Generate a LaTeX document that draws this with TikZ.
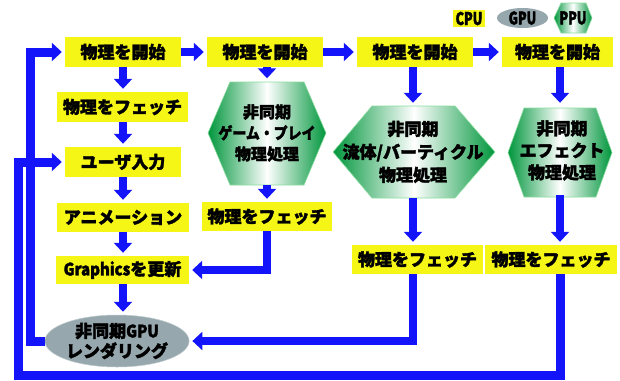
\documentclass[tikz,border=0pt]{standalone}
\usepackage{fontspec}
\usepackage{graphicx}
\newfontfamily\jp{Noto Sans CJK JP}[BoldFeatures={FakeBold=2}]
\newfontfamily\latn{Noto Sans CJK JP}[FakeStretch=0.88, BoldFeatures={FakeBold=2}]
\newfontfamily\latc{Noto Sans CJK JP}[FakeStretch=0.72, BoldFeatures={FakeBold=2}]
\usetikzlibrary{arrows.meta,shapes.geometric}
\definecolor{yel}{RGB}{246,246,22}
\definecolor{blu}{RGB}{20,20,250}
\definecolor{grn}{RGB}{0,150,60}
\definecolor{gry}{RGB}{150,168,174}
\definecolor{hexline}{RGB}{140,220,160}
\tikzset{
  ybox/.style={fill=yel, inner sep=0pt, minimum height=30pt, font=\jp\bfseries\fontsize{17}{20}\selectfont},
  flowarr/.style={draw=blu, line width=8pt, -{Triangle[length=10pt,width=18pt]}, shorten >=3pt, line join=miter},
  looparr/.style={flowarr, line width=9pt},
  hexfill/.style={left color=grn, right color=grn, middle color=white, draw=hexline, line width=0.6pt},
  hextxt/.style={inner sep=0pt, align=center},
  legtxt/.style={inner sep=0pt, font=\latc\bfseries\fontsize{17.5}{17.5}\selectfont},
}
\begin{document}
\begin{tikzpicture}[x=1pt,y=-1pt]
\useasboundingbox (0,0) rectangle (620,380);
% hexagons
\path[hexfill] (208,133) -- (230,82) -- (304,82) -- (326,133) -- (304,185) -- (230,185) -- cycle;
\path[hexfill] (333,152) -- (372,106) -- (455,106) -- (495,152) -- (455,198) -- (372,198) -- cycle;
\path[hexfill] (508,152.5) -- (524,108) -- (596,108) -- (612,152.5) -- (596,197) -- (524,197) -- cycle;
\path[hexfill] (554,18) -- (561,3) -- (586,3) -- (592,18) -- (586,33) -- (561,33) -- cycle;
% legend
\node[legtxt, fill=yel, minimum width=32pt, minimum height=17pt] (cpu) at (469,18.5) {CPU};
\node[legtxt, ellipse, fill=gry, minimum width=51pt, minimum height=20pt] (gpu) at (522.5,18) {GPU};
\node[legtxt] (ppu) at (573,18) {PPU};
% row 1
\node[ybox, minimum width=116pt] (s1) at (123,52) {物理を開始};
\node[ybox, minimum width=116pt] (s2) at (265,52) {物理を開始};
\node[ybox, minimum width=116pt] (s3) at (415,52) {物理を開始};
\node[ybox, minimum width=111pt] (s4) at (557.5,52) {物理を開始};
% column 1
\node[ybox, minimum width=131pt] (f1) at (122.5,107) {物理をフェッチ};
\node[ybox, minimum width=116pt] (u) at (123,162) {ユーザ入力};
\node[ybox, minimum width=132pt, minimum height=29pt] (an) at (123,217.5) {アニメーション};
\node[ybox, minimum width=133pt, minimum height=28pt] (gr) at (122.5,270) {{\latn Graphics}を更新};
\node[ellipse, fill=gry, draw=gry!60!white, line width=0.5pt, minimum width=138pt, minimum height=52pt, inner sep=0pt, align=center, font=\jp\bfseries\fontsize{17}{20}\selectfont] (el) at (117,341) {非同期{\latn GPU}\\レンダリング};
% hex texts
\node[hextxt, minimum width=118pt, minimum height=103pt, font=\jp\bfseries\fontsize{16}{21}\selectfont] (h1) at (267,133) {非同期\\\scalebox{0.87}[1]{ゲーム・プレイ}\\物理処理};
\node[hextxt, minimum width=162pt, minimum height=92pt, font=\jp\bfseries\fontsize{17}{23}\selectfont] (h2) at (413,152) {非同期\\流体/バーティクル\\物理処理};
\node[hextxt, minimum width=104pt, minimum height=89pt, font=\jp\bfseries\fontsize{17}{22}\selectfont] (h3) at (562,150.5) {非同期\\エフェクト\\物理処理};
% fetch boxes
\node[ybox, minimum width=130pt, minimum height=29pt] (f2) at (267,216.5) {物理をフェッチ};
\node[ybox, minimum width=131pt, minimum height=29pt] (f3) at (417.5,259.5) {物理をフェッチ};
\node[ybox, minimum width=132pt, minimum height=29pt] (f4) at (551,259.5) {物理をフェッチ};
% loop coordinates
\coordinate (li) at (30,0);
\coordinate (lb) at (18,375);
\coordinate (c4) at (560,0);
% arrows row 1
\draw[flowarr] (s1) -- (s2);
\draw[flowarr] (s2) -- (s3);
\draw[flowarr] (s3) -- (s4);
% column 1
\draw[flowarr] (s1.south) -- (s1.south |- f1.north);
\draw[flowarr] (s1.south |- f1.south) -- (s1.south |- u.north);
\draw[flowarr] (u.south) -- (u.south |- an.north);
\draw[flowarr] (u.south |- an.south) -- (u.south |- gr.north);
\draw[flowarr] (u.south |- gr.south) -- (u.south |- el.north);
% column 2
\draw[flowarr] (h1.north |- s2.south) -- (h1.north);
\draw[flowarr] (h1.south) -- (h1.south |- f2.north);
\draw[flowarr] (f2.south) -- (f2.south |- gr.east) -- (gr.east);
% column 3
\draw[flowarr] (h2.north |- s3.south) -- (h2.north);
\draw[flowarr] (h2.south) -- (h2.south |- f3.north);
\draw[flowarr] (h2.south |- f3.south) -- (h2.south |- el.east) -- (el.east);
% column 4
\draw[flowarr] (c4 |- s4.south) -- (c4 |- h3.north);
\draw[flowarr] (c4 |- h3.south) -- (c4 |- f4.north);
% loops
\draw[looparr] (el.west) -- (el.west -| li) -- (li |- s1.west) -- (s1.west);
\draw[looparr] (c4 |- f4.south) -- (c4 |- lb) -- (lb) -- (lb |- u.west) -- (u.west);
\end{tikzpicture}
\end{document}
